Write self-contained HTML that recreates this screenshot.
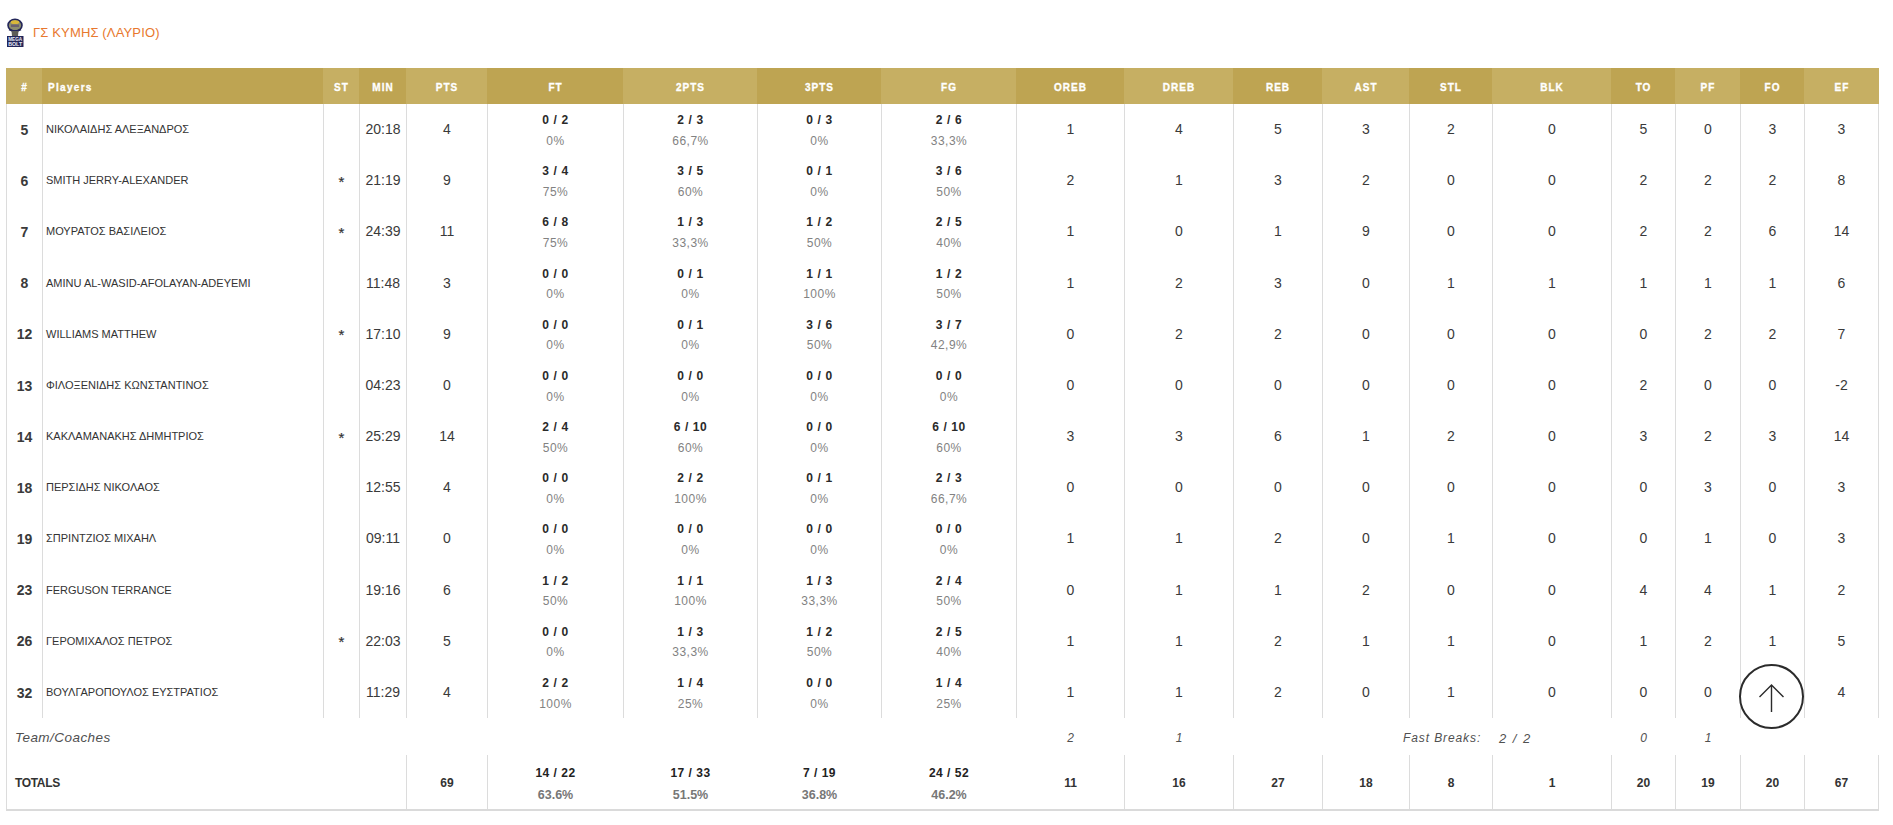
<!DOCTYPE html>
<html><head><meta charset="utf-8"><title>Box score</title>
<style>
*{margin:0;padding:0;box-sizing:border-box}
html,body{width:1893px;height:825px;overflow:hidden;background:#fff}
body{position:relative;font-family:"Liberation Sans",sans-serif;color:#333}
.a{position:absolute}
.hc{position:absolute;top:68px;height:36px;background:#bea452}
.hc span{position:absolute;left:0;right:0;top:0;color:#fff;font-weight:bold;font-size:10px;letter-spacing:1px;line-height:39.5px;text-align:center;white-space:nowrap;-webkit-text-stroke:0.3px #fff;text-indent:1px}
.vl{position:absolute;width:1px;background:#dcdcdc}
.t{position:absolute;white-space:nowrap;text-align:center;line-height:1}
.num{font-size:14px;color:#3a3a3a}
.jr{font-size:14px;font-weight:bold;color:#3a3a3a}
.nm{font-size:11px;color:#333;text-align:left}
.st{font-size:15px;color:#333;-webkit-text-stroke:0.2px #333}
.s1{font-size:12px;font-weight:bold;color:#2a2a2a;letter-spacing:0.6px}
.s2{font-size:12px;color:#828282;letter-spacing:0.5px}
.it{font-size:12px;font-style:italic;color:#505050}
.tb{font-size:12px;font-weight:bold;color:#333}
.tb2{font-size:12px;font-weight:bold;color:#222;letter-spacing:0.5px}
.tp{font-size:12.5px;font-weight:bold;color:#777}
</style></head><body>

<svg class="a" style="left:6px;top:18px" width="18" height="30" viewBox="0 0 18 30">
<ellipse cx="9" cy="7.2" rx="7" ry="5.9" fill="#8b8c6e" stroke="#23265a" stroke-width="1.6"/>
<ellipse cx="9" cy="4.2" rx="4.2" ry="1.9" fill="#d9b83a"/>
<path d="M5 6.5h8v2.5h-8z" fill="#6a6070"/>
<path d="M3 11.5 Q9 14.5 15 11.5" stroke="#23265a" stroke-width="1.4" fill="none"/>
<path d="M5.5 13 L12.5 13 L12 18 L6 18 Z" fill="#5d5d58"/>
<rect x="1" y="18" width="16.5" height="11" fill="#23265a"/>
<text x="9.2" y="22.9" font-family="Liberation Sans" font-weight="bold" font-size="5" fill="#e8eaf4" text-anchor="middle" textLength="14" lengthAdjust="spacingAndGlyphs">MEGA</text>
<text x="9.2" y="28" font-family="Liberation Sans" font-weight="bold" font-size="5" fill="#e8eaf4" text-anchor="middle" textLength="14" lengthAdjust="spacingAndGlyphs">BOLT</text>
</svg>
<div class="a" style="left:33px;top:25px;font-size:13px;color:#e8782e;line-height:15px;white-space:nowrap;letter-spacing:0.15px">ΓΣ ΚΥΜΗΣ (ΛΑΥΡΙΟ)</div>
<div class="hc" style="left:6px;width:36px;background:#c6af63"><span>#</span></div>
<div class="hc" style="left:42px;width:281px;background:#bea452"><span style="text-align:left;left:6px;letter-spacing:1.3px;text-indent:0">Players</span></div>
<div class="hc" style="left:323px;width:36px;background:#c6af63"><span>ST</span></div>
<div class="hc" style="left:359px;width:47px;background:#bea452"><span>MIN</span></div>
<div class="hc" style="left:406px;width:81px;background:#c6af63"><span>PTS</span></div>
<div class="hc" style="left:487px;width:136px;background:#bea452"><span>FT</span></div>
<div class="hc" style="left:623px;width:134px;background:#c6af63"><span>2PTS</span></div>
<div class="hc" style="left:757px;width:124px;background:#bea452"><span>3PTS</span></div>
<div class="hc" style="left:881px;width:135px;background:#c6af63"><span>FG</span></div>
<div class="hc" style="left:1016px;width:108px;background:#bea452"><span>OREB</span></div>
<div class="hc" style="left:1124px;width:109px;background:#c6af63"><span>DREB</span></div>
<div class="hc" style="left:1233px;width:89px;background:#bea452"><span>REB</span></div>
<div class="hc" style="left:1322px;width:87px;background:#c6af63"><span>AST</span></div>
<div class="hc" style="left:1409px;width:83px;background:#bea452"><span>STL</span></div>
<div class="hc" style="left:1492px;width:119px;background:#c6af63"><span>BLK</span></div>
<div class="hc" style="left:1611px;width:64px;background:#bea452"><span>TO</span></div>
<div class="hc" style="left:1675px;width:65px;background:#c6af63"><span>PF</span></div>
<div class="hc" style="left:1740px;width:64px;background:#bea452"><span>FO</span></div>
<div class="hc" style="left:1804px;width:75px;background:#c6af63"><span>EF</span></div>
<div class="vl" style="left:6px;top:104px;height:705px"></div>
<div class="vl" style="left:42px;top:104px;height:614px"></div>
<div class="vl" style="left:323px;top:104px;height:614px"></div>
<div class="vl" style="left:359px;top:104px;height:614px"></div>
<div class="vl" style="left:406px;top:104px;height:614px"></div>
<div class="vl" style="left:487px;top:104px;height:614px"></div>
<div class="vl" style="left:623px;top:104px;height:614px"></div>
<div class="vl" style="left:757px;top:104px;height:614px"></div>
<div class="vl" style="left:881px;top:104px;height:614px"></div>
<div class="vl" style="left:1016px;top:104px;height:614px"></div>
<div class="vl" style="left:1124px;top:104px;height:614px"></div>
<div class="vl" style="left:1233px;top:104px;height:614px"></div>
<div class="vl" style="left:1322px;top:104px;height:614px"></div>
<div class="vl" style="left:1409px;top:104px;height:614px"></div>
<div class="vl" style="left:1492px;top:104px;height:614px"></div>
<div class="vl" style="left:1611px;top:104px;height:614px"></div>
<div class="vl" style="left:1675px;top:104px;height:614px"></div>
<div class="vl" style="left:1740px;top:104px;height:614px"></div>
<div class="vl" style="left:1804px;top:104px;height:614px"></div>
<div class="vl" style="left:1878px;top:104px;height:614px"></div>
<div class="vl" style="left:406px;top:755px;height:54px"></div>
<div class="vl" style="left:487px;top:755px;height:54px"></div>
<div class="vl" style="left:1124px;top:755px;height:54px"></div>
<div class="vl" style="left:1233px;top:755px;height:54px"></div>
<div class="vl" style="left:1322px;top:755px;height:54px"></div>
<div class="vl" style="left:1409px;top:755px;height:54px"></div>
<div class="vl" style="left:1492px;top:755px;height:54px"></div>
<div class="vl" style="left:1611px;top:755px;height:54px"></div>
<div class="vl" style="left:1675px;top:755px;height:54px"></div>
<div class="vl" style="left:1740px;top:755px;height:54px"></div>
<div class="vl" style="left:1804px;top:755px;height:54px"></div>
<div class="vl" style="left:1878px;top:755px;height:54px"></div>
<div class="a" style="left:6px;top:809px;width:1873px;height:2px;background:#dadada"></div>
<div class="t jr" style="left:6.5px;top:122.7px;width:36px">5</div>
<div class="t nm" style="left:46px;top:124.0px">ΝΙΚΟΛΑΙΔΗΣ ΑΛΕΞΑΝΔΡΟΣ</div>
<div class="t num" style="left:343.0px;top:122.0px;width:80px">20:18</div>
<div class="t num" style="left:407.0px;top:122.0px;width:80px">4</div>
<div class="t s1" style="left:495.5px;top:114.0px;width:120px">0 / 2</div>
<div class="t s2" style="left:495.5px;top:134.7px;width:120px">0%</div>
<div class="t s1" style="left:630.5px;top:114.0px;width:120px">2 / 3</div>
<div class="t s2" style="left:630.5px;top:134.7px;width:120px">66,7%</div>
<div class="t s1" style="left:759.5px;top:114.0px;width:120px">0 / 3</div>
<div class="t s2" style="left:759.5px;top:134.7px;width:120px">0%</div>
<div class="t s1" style="left:889.0px;top:114.0px;width:120px">2 / 6</div>
<div class="t s2" style="left:889.0px;top:134.7px;width:120px">33,3%</div>
<div class="t num" style="left:1030.5px;top:122.0px;width:80px">1</div>
<div class="t num" style="left:1139.0px;top:122.0px;width:80px">4</div>
<div class="t num" style="left:1238.0px;top:122.0px;width:80px">5</div>
<div class="t num" style="left:1326.0px;top:122.0px;width:80px">3</div>
<div class="t num" style="left:1411.0px;top:122.0px;width:80px">2</div>
<div class="t num" style="left:1512.0px;top:122.0px;width:80px">0</div>
<div class="t num" style="left:1603.5px;top:122.0px;width:80px">5</div>
<div class="t num" style="left:1668.0px;top:122.0px;width:80px">0</div>
<div class="t num" style="left:1732.5px;top:122.0px;width:80px">3</div>
<div class="t num" style="left:1801.5px;top:122.0px;width:80px">3</div>
<div class="t jr" style="left:6.5px;top:173.9px;width:36px">6</div>
<div class="t nm" style="left:46px;top:175.2px">SMITH JERRY-ALEXANDER</div>
<div class="t st" style="left:323.5px;top:173.7px;width:36px">*</div>
<div class="t num" style="left:343.0px;top:173.2px;width:80px">21:19</div>
<div class="t num" style="left:407.0px;top:173.2px;width:80px">9</div>
<div class="t s1" style="left:495.5px;top:165.2px;width:120px">3 / 4</div>
<div class="t s2" style="left:495.5px;top:185.9px;width:120px">75%</div>
<div class="t s1" style="left:630.5px;top:165.2px;width:120px">3 / 5</div>
<div class="t s2" style="left:630.5px;top:185.9px;width:120px">60%</div>
<div class="t s1" style="left:759.5px;top:165.2px;width:120px">0 / 1</div>
<div class="t s2" style="left:759.5px;top:185.9px;width:120px">0%</div>
<div class="t s1" style="left:889.0px;top:165.2px;width:120px">3 / 6</div>
<div class="t s2" style="left:889.0px;top:185.9px;width:120px">50%</div>
<div class="t num" style="left:1030.5px;top:173.2px;width:80px">2</div>
<div class="t num" style="left:1139.0px;top:173.2px;width:80px">1</div>
<div class="t num" style="left:1238.0px;top:173.2px;width:80px">3</div>
<div class="t num" style="left:1326.0px;top:173.2px;width:80px">2</div>
<div class="t num" style="left:1411.0px;top:173.2px;width:80px">0</div>
<div class="t num" style="left:1512.0px;top:173.2px;width:80px">0</div>
<div class="t num" style="left:1603.5px;top:173.2px;width:80px">2</div>
<div class="t num" style="left:1668.0px;top:173.2px;width:80px">2</div>
<div class="t num" style="left:1732.5px;top:173.2px;width:80px">2</div>
<div class="t num" style="left:1801.5px;top:173.2px;width:80px">8</div>
<div class="t jr" style="left:6.5px;top:225.0px;width:36px">7</div>
<div class="t nm" style="left:46px;top:226.3px">ΜΟΥΡΑΤΟΣ ΒΑΣΙΛΕΙΟΣ</div>
<div class="t st" style="left:323.5px;top:224.8px;width:36px">*</div>
<div class="t num" style="left:343.0px;top:224.3px;width:80px">24:39</div>
<div class="t num" style="left:407.0px;top:224.3px;width:80px">11</div>
<div class="t s1" style="left:495.5px;top:216.3px;width:120px">6 / 8</div>
<div class="t s2" style="left:495.5px;top:237.0px;width:120px">75%</div>
<div class="t s1" style="left:630.5px;top:216.3px;width:120px">1 / 3</div>
<div class="t s2" style="left:630.5px;top:237.0px;width:120px">33,3%</div>
<div class="t s1" style="left:759.5px;top:216.3px;width:120px">1 / 2</div>
<div class="t s2" style="left:759.5px;top:237.0px;width:120px">50%</div>
<div class="t s1" style="left:889.0px;top:216.3px;width:120px">2 / 5</div>
<div class="t s2" style="left:889.0px;top:237.0px;width:120px">40%</div>
<div class="t num" style="left:1030.5px;top:224.3px;width:80px">1</div>
<div class="t num" style="left:1139.0px;top:224.3px;width:80px">0</div>
<div class="t num" style="left:1238.0px;top:224.3px;width:80px">1</div>
<div class="t num" style="left:1326.0px;top:224.3px;width:80px">9</div>
<div class="t num" style="left:1411.0px;top:224.3px;width:80px">0</div>
<div class="t num" style="left:1512.0px;top:224.3px;width:80px">0</div>
<div class="t num" style="left:1603.5px;top:224.3px;width:80px">2</div>
<div class="t num" style="left:1668.0px;top:224.3px;width:80px">2</div>
<div class="t num" style="left:1732.5px;top:224.3px;width:80px">6</div>
<div class="t num" style="left:1801.5px;top:224.3px;width:80px">14</div>
<div class="t jr" style="left:6.5px;top:276.2px;width:36px">8</div>
<div class="t nm" style="left:46px;top:277.5px">AMINU AL-WASID-AFOLAYAN-ADEYEMI</div>
<div class="t num" style="left:343.0px;top:275.5px;width:80px">11:48</div>
<div class="t num" style="left:407.0px;top:275.5px;width:80px">3</div>
<div class="t s1" style="left:495.5px;top:267.5px;width:120px">0 / 0</div>
<div class="t s2" style="left:495.5px;top:288.2px;width:120px">0%</div>
<div class="t s1" style="left:630.5px;top:267.5px;width:120px">0 / 1</div>
<div class="t s2" style="left:630.5px;top:288.2px;width:120px">0%</div>
<div class="t s1" style="left:759.5px;top:267.5px;width:120px">1 / 1</div>
<div class="t s2" style="left:759.5px;top:288.2px;width:120px">100%</div>
<div class="t s1" style="left:889.0px;top:267.5px;width:120px">1 / 2</div>
<div class="t s2" style="left:889.0px;top:288.2px;width:120px">50%</div>
<div class="t num" style="left:1030.5px;top:275.5px;width:80px">1</div>
<div class="t num" style="left:1139.0px;top:275.5px;width:80px">2</div>
<div class="t num" style="left:1238.0px;top:275.5px;width:80px">3</div>
<div class="t num" style="left:1326.0px;top:275.5px;width:80px">0</div>
<div class="t num" style="left:1411.0px;top:275.5px;width:80px">1</div>
<div class="t num" style="left:1512.0px;top:275.5px;width:80px">1</div>
<div class="t num" style="left:1603.5px;top:275.5px;width:80px">1</div>
<div class="t num" style="left:1668.0px;top:275.5px;width:80px">1</div>
<div class="t num" style="left:1732.5px;top:275.5px;width:80px">1</div>
<div class="t num" style="left:1801.5px;top:275.5px;width:80px">6</div>
<div class="t jr" style="left:6.5px;top:327.4px;width:36px">12</div>
<div class="t nm" style="left:46px;top:328.7px">WILLIAMS MATTHEW</div>
<div class="t st" style="left:323.5px;top:327.2px;width:36px">*</div>
<div class="t num" style="left:343.0px;top:326.7px;width:80px">17:10</div>
<div class="t num" style="left:407.0px;top:326.7px;width:80px">9</div>
<div class="t s1" style="left:495.5px;top:318.7px;width:120px">0 / 0</div>
<div class="t s2" style="left:495.5px;top:339.4px;width:120px">0%</div>
<div class="t s1" style="left:630.5px;top:318.7px;width:120px">0 / 1</div>
<div class="t s2" style="left:630.5px;top:339.4px;width:120px">0%</div>
<div class="t s1" style="left:759.5px;top:318.7px;width:120px">3 / 6</div>
<div class="t s2" style="left:759.5px;top:339.4px;width:120px">50%</div>
<div class="t s1" style="left:889.0px;top:318.7px;width:120px">3 / 7</div>
<div class="t s2" style="left:889.0px;top:339.4px;width:120px">42,9%</div>
<div class="t num" style="left:1030.5px;top:326.7px;width:80px">0</div>
<div class="t num" style="left:1139.0px;top:326.7px;width:80px">2</div>
<div class="t num" style="left:1238.0px;top:326.7px;width:80px">2</div>
<div class="t num" style="left:1326.0px;top:326.7px;width:80px">0</div>
<div class="t num" style="left:1411.0px;top:326.7px;width:80px">0</div>
<div class="t num" style="left:1512.0px;top:326.7px;width:80px">0</div>
<div class="t num" style="left:1603.5px;top:326.7px;width:80px">0</div>
<div class="t num" style="left:1668.0px;top:326.7px;width:80px">2</div>
<div class="t num" style="left:1732.5px;top:326.7px;width:80px">2</div>
<div class="t num" style="left:1801.5px;top:326.7px;width:80px">7</div>
<div class="t jr" style="left:6.5px;top:378.6px;width:36px">13</div>
<div class="t nm" style="left:46px;top:379.9px">ΦΙΛΟΞΕΝΙΔΗΣ ΚΩΝΣΤΑΝΤΙΝΟΣ</div>
<div class="t num" style="left:343.0px;top:377.9px;width:80px">04:23</div>
<div class="t num" style="left:407.0px;top:377.9px;width:80px">0</div>
<div class="t s1" style="left:495.5px;top:369.9px;width:120px">0 / 0</div>
<div class="t s2" style="left:495.5px;top:390.6px;width:120px">0%</div>
<div class="t s1" style="left:630.5px;top:369.9px;width:120px">0 / 0</div>
<div class="t s2" style="left:630.5px;top:390.6px;width:120px">0%</div>
<div class="t s1" style="left:759.5px;top:369.9px;width:120px">0 / 0</div>
<div class="t s2" style="left:759.5px;top:390.6px;width:120px">0%</div>
<div class="t s1" style="left:889.0px;top:369.9px;width:120px">0 / 0</div>
<div class="t s2" style="left:889.0px;top:390.6px;width:120px">0%</div>
<div class="t num" style="left:1030.5px;top:377.9px;width:80px">0</div>
<div class="t num" style="left:1139.0px;top:377.9px;width:80px">0</div>
<div class="t num" style="left:1238.0px;top:377.9px;width:80px">0</div>
<div class="t num" style="left:1326.0px;top:377.9px;width:80px">0</div>
<div class="t num" style="left:1411.0px;top:377.9px;width:80px">0</div>
<div class="t num" style="left:1512.0px;top:377.9px;width:80px">0</div>
<div class="t num" style="left:1603.5px;top:377.9px;width:80px">2</div>
<div class="t num" style="left:1668.0px;top:377.9px;width:80px">0</div>
<div class="t num" style="left:1732.5px;top:377.9px;width:80px">0</div>
<div class="t num" style="left:1801.5px;top:377.9px;width:80px">-2</div>
<div class="t jr" style="left:6.5px;top:429.7px;width:36px">14</div>
<div class="t nm" style="left:46px;top:431.0px">ΚΑΚΛΑΜΑΝΑΚΗΣ ΔΗΜΗΤΡΙΟΣ</div>
<div class="t st" style="left:323.5px;top:429.5px;width:36px">*</div>
<div class="t num" style="left:343.0px;top:429.0px;width:80px">25:29</div>
<div class="t num" style="left:407.0px;top:429.0px;width:80px">14</div>
<div class="t s1" style="left:495.5px;top:421.0px;width:120px">2 / 4</div>
<div class="t s2" style="left:495.5px;top:441.7px;width:120px">50%</div>
<div class="t s1" style="left:630.5px;top:421.0px;width:120px">6 / 10</div>
<div class="t s2" style="left:630.5px;top:441.7px;width:120px">60%</div>
<div class="t s1" style="left:759.5px;top:421.0px;width:120px">0 / 0</div>
<div class="t s2" style="left:759.5px;top:441.7px;width:120px">0%</div>
<div class="t s1" style="left:889.0px;top:421.0px;width:120px">6 / 10</div>
<div class="t s2" style="left:889.0px;top:441.7px;width:120px">60%</div>
<div class="t num" style="left:1030.5px;top:429.0px;width:80px">3</div>
<div class="t num" style="left:1139.0px;top:429.0px;width:80px">3</div>
<div class="t num" style="left:1238.0px;top:429.0px;width:80px">6</div>
<div class="t num" style="left:1326.0px;top:429.0px;width:80px">1</div>
<div class="t num" style="left:1411.0px;top:429.0px;width:80px">2</div>
<div class="t num" style="left:1512.0px;top:429.0px;width:80px">0</div>
<div class="t num" style="left:1603.5px;top:429.0px;width:80px">3</div>
<div class="t num" style="left:1668.0px;top:429.0px;width:80px">2</div>
<div class="t num" style="left:1732.5px;top:429.0px;width:80px">3</div>
<div class="t num" style="left:1801.5px;top:429.0px;width:80px">14</div>
<div class="t jr" style="left:6.5px;top:480.9px;width:36px">18</div>
<div class="t nm" style="left:46px;top:482.2px">ΠΕΡΣΙΔΗΣ ΝΙΚΟΛΑΟΣ</div>
<div class="t num" style="left:343.0px;top:480.2px;width:80px">12:55</div>
<div class="t num" style="left:407.0px;top:480.2px;width:80px">4</div>
<div class="t s1" style="left:495.5px;top:472.2px;width:120px">0 / 0</div>
<div class="t s2" style="left:495.5px;top:492.9px;width:120px">0%</div>
<div class="t s1" style="left:630.5px;top:472.2px;width:120px">2 / 2</div>
<div class="t s2" style="left:630.5px;top:492.9px;width:120px">100%</div>
<div class="t s1" style="left:759.5px;top:472.2px;width:120px">0 / 1</div>
<div class="t s2" style="left:759.5px;top:492.9px;width:120px">0%</div>
<div class="t s1" style="left:889.0px;top:472.2px;width:120px">2 / 3</div>
<div class="t s2" style="left:889.0px;top:492.9px;width:120px">66,7%</div>
<div class="t num" style="left:1030.5px;top:480.2px;width:80px">0</div>
<div class="t num" style="left:1139.0px;top:480.2px;width:80px">0</div>
<div class="t num" style="left:1238.0px;top:480.2px;width:80px">0</div>
<div class="t num" style="left:1326.0px;top:480.2px;width:80px">0</div>
<div class="t num" style="left:1411.0px;top:480.2px;width:80px">0</div>
<div class="t num" style="left:1512.0px;top:480.2px;width:80px">0</div>
<div class="t num" style="left:1603.5px;top:480.2px;width:80px">0</div>
<div class="t num" style="left:1668.0px;top:480.2px;width:80px">3</div>
<div class="t num" style="left:1732.5px;top:480.2px;width:80px">0</div>
<div class="t num" style="left:1801.5px;top:480.2px;width:80px">3</div>
<div class="t jr" style="left:6.5px;top:532.1px;width:36px">19</div>
<div class="t nm" style="left:46px;top:533.4px">ΣΠΡΙΝΤΖΙΟΣ ΜΙΧΑΗΛ</div>
<div class="t num" style="left:343.0px;top:531.4px;width:80px">09:11</div>
<div class="t num" style="left:407.0px;top:531.4px;width:80px">0</div>
<div class="t s1" style="left:495.5px;top:523.4px;width:120px">0 / 0</div>
<div class="t s2" style="left:495.5px;top:544.1px;width:120px">0%</div>
<div class="t s1" style="left:630.5px;top:523.4px;width:120px">0 / 0</div>
<div class="t s2" style="left:630.5px;top:544.1px;width:120px">0%</div>
<div class="t s1" style="left:759.5px;top:523.4px;width:120px">0 / 0</div>
<div class="t s2" style="left:759.5px;top:544.1px;width:120px">0%</div>
<div class="t s1" style="left:889.0px;top:523.4px;width:120px">0 / 0</div>
<div class="t s2" style="left:889.0px;top:544.1px;width:120px">0%</div>
<div class="t num" style="left:1030.5px;top:531.4px;width:80px">1</div>
<div class="t num" style="left:1139.0px;top:531.4px;width:80px">1</div>
<div class="t num" style="left:1238.0px;top:531.4px;width:80px">2</div>
<div class="t num" style="left:1326.0px;top:531.4px;width:80px">0</div>
<div class="t num" style="left:1411.0px;top:531.4px;width:80px">1</div>
<div class="t num" style="left:1512.0px;top:531.4px;width:80px">0</div>
<div class="t num" style="left:1603.5px;top:531.4px;width:80px">0</div>
<div class="t num" style="left:1668.0px;top:531.4px;width:80px">1</div>
<div class="t num" style="left:1732.5px;top:531.4px;width:80px">0</div>
<div class="t num" style="left:1801.5px;top:531.4px;width:80px">3</div>
<div class="t jr" style="left:6.5px;top:583.2px;width:36px">23</div>
<div class="t nm" style="left:46px;top:584.5px">FERGUSON TERRANCE</div>
<div class="t num" style="left:343.0px;top:582.5px;width:80px">19:16</div>
<div class="t num" style="left:407.0px;top:582.5px;width:80px">6</div>
<div class="t s1" style="left:495.5px;top:574.5px;width:120px">1 / 2</div>
<div class="t s2" style="left:495.5px;top:595.2px;width:120px">50%</div>
<div class="t s1" style="left:630.5px;top:574.5px;width:120px">1 / 1</div>
<div class="t s2" style="left:630.5px;top:595.2px;width:120px">100%</div>
<div class="t s1" style="left:759.5px;top:574.5px;width:120px">1 / 3</div>
<div class="t s2" style="left:759.5px;top:595.2px;width:120px">33,3%</div>
<div class="t s1" style="left:889.0px;top:574.5px;width:120px">2 / 4</div>
<div class="t s2" style="left:889.0px;top:595.2px;width:120px">50%</div>
<div class="t num" style="left:1030.5px;top:582.5px;width:80px">0</div>
<div class="t num" style="left:1139.0px;top:582.5px;width:80px">1</div>
<div class="t num" style="left:1238.0px;top:582.5px;width:80px">1</div>
<div class="t num" style="left:1326.0px;top:582.5px;width:80px">2</div>
<div class="t num" style="left:1411.0px;top:582.5px;width:80px">0</div>
<div class="t num" style="left:1512.0px;top:582.5px;width:80px">0</div>
<div class="t num" style="left:1603.5px;top:582.5px;width:80px">4</div>
<div class="t num" style="left:1668.0px;top:582.5px;width:80px">4</div>
<div class="t num" style="left:1732.5px;top:582.5px;width:80px">1</div>
<div class="t num" style="left:1801.5px;top:582.5px;width:80px">2</div>
<div class="t jr" style="left:6.5px;top:634.4px;width:36px">26</div>
<div class="t nm" style="left:46px;top:635.7px">ΓΕΡΟΜΙΧΑΛΟΣ ΠΕΤΡΟΣ</div>
<div class="t st" style="left:323.5px;top:634.2px;width:36px">*</div>
<div class="t num" style="left:343.0px;top:633.7px;width:80px">22:03</div>
<div class="t num" style="left:407.0px;top:633.7px;width:80px">5</div>
<div class="t s1" style="left:495.5px;top:625.7px;width:120px">0 / 0</div>
<div class="t s2" style="left:495.5px;top:646.4px;width:120px">0%</div>
<div class="t s1" style="left:630.5px;top:625.7px;width:120px">1 / 3</div>
<div class="t s2" style="left:630.5px;top:646.4px;width:120px">33,3%</div>
<div class="t s1" style="left:759.5px;top:625.7px;width:120px">1 / 2</div>
<div class="t s2" style="left:759.5px;top:646.4px;width:120px">50%</div>
<div class="t s1" style="left:889.0px;top:625.7px;width:120px">2 / 5</div>
<div class="t s2" style="left:889.0px;top:646.4px;width:120px">40%</div>
<div class="t num" style="left:1030.5px;top:633.7px;width:80px">1</div>
<div class="t num" style="left:1139.0px;top:633.7px;width:80px">1</div>
<div class="t num" style="left:1238.0px;top:633.7px;width:80px">2</div>
<div class="t num" style="left:1326.0px;top:633.7px;width:80px">1</div>
<div class="t num" style="left:1411.0px;top:633.7px;width:80px">1</div>
<div class="t num" style="left:1512.0px;top:633.7px;width:80px">0</div>
<div class="t num" style="left:1603.5px;top:633.7px;width:80px">1</div>
<div class="t num" style="left:1668.0px;top:633.7px;width:80px">2</div>
<div class="t num" style="left:1732.5px;top:633.7px;width:80px">1</div>
<div class="t num" style="left:1801.5px;top:633.7px;width:80px">5</div>
<div class="t jr" style="left:6.5px;top:685.6px;width:36px">32</div>
<div class="t nm" style="left:46px;top:686.9px">ΒΟΥΛΓΑΡΟΠΟΥΛΟΣ ΕΥΣΤΡΑΤΙΟΣ</div>
<div class="t num" style="left:343.0px;top:684.9px;width:80px">11:29</div>
<div class="t num" style="left:407.0px;top:684.9px;width:80px">4</div>
<div class="t s1" style="left:495.5px;top:676.9px;width:120px">2 / 2</div>
<div class="t s2" style="left:495.5px;top:697.6px;width:120px">100%</div>
<div class="t s1" style="left:630.5px;top:676.9px;width:120px">1 / 4</div>
<div class="t s2" style="left:630.5px;top:697.6px;width:120px">25%</div>
<div class="t s1" style="left:759.5px;top:676.9px;width:120px">0 / 0</div>
<div class="t s2" style="left:759.5px;top:697.6px;width:120px">0%</div>
<div class="t s1" style="left:889.0px;top:676.9px;width:120px">1 / 4</div>
<div class="t s2" style="left:889.0px;top:697.6px;width:120px">25%</div>
<div class="t num" style="left:1030.5px;top:684.9px;width:80px">1</div>
<div class="t num" style="left:1139.0px;top:684.9px;width:80px">1</div>
<div class="t num" style="left:1238.0px;top:684.9px;width:80px">2</div>
<div class="t num" style="left:1326.0px;top:684.9px;width:80px">0</div>
<div class="t num" style="left:1411.0px;top:684.9px;width:80px">1</div>
<div class="t num" style="left:1512.0px;top:684.9px;width:80px">0</div>
<div class="t num" style="left:1603.5px;top:684.9px;width:80px">0</div>
<div class="t num" style="left:1668.0px;top:684.9px;width:80px">0</div>
<div class="t num" style="left:1801.5px;top:684.9px;width:80px">4</div>
<div class="t it" style="left:15px;top:731px;font-size:13.5px;letter-spacing:0.45px">Team/Coaches</div>
<div class="t it" style="left:1050.5px;top:732.0px;width:40px">2</div>
<div class="t it" style="left:1159.0px;top:732.0px;width:40px">1</div>
<div class="t it" style="left:1623.5px;top:732.0px;width:40px">0</div>
<div class="t it" style="left:1688.0px;top:732.0px;width:40px">1</div>
<div class="t it" style="left:1403px;top:732px;letter-spacing:0.9px;text-align:left">Fast Breaks:</div>
<div class="t it" style="left:1499px;top:731.5px;font-size:13px;letter-spacing:1.5px;text-align:left">2 / 2</div>
<div class="t tb" style="left:15px;top:777px;text-align:left;letter-spacing:-0.35px">TOTALS</div>
<div class="t tb" style="left:407.0px;top:777.0px;width:80px">69</div>
<div class="t tb2" style="left:495.5px;top:766.5px;width:120px">14 / 22</div>
<div class="t tp" style="left:495.5px;top:789.0px;width:120px">63.6%</div>
<div class="t tb2" style="left:630.5px;top:766.5px;width:120px">17 / 33</div>
<div class="t tp" style="left:630.5px;top:789.0px;width:120px">51.5%</div>
<div class="t tb2" style="left:759.5px;top:766.5px;width:120px">7 / 19</div>
<div class="t tp" style="left:759.5px;top:789.0px;width:120px">36.8%</div>
<div class="t tb2" style="left:889.0px;top:766.5px;width:120px">24 / 52</div>
<div class="t tp" style="left:889.0px;top:789.0px;width:120px">46.2%</div>
<div class="t tb" style="left:1030.5px;top:777.0px;width:80px">11</div>
<div class="t tb" style="left:1139.0px;top:777.0px;width:80px">16</div>
<div class="t tb" style="left:1238.0px;top:777.0px;width:80px">27</div>
<div class="t tb" style="left:1326.0px;top:777.0px;width:80px">18</div>
<div class="t tb" style="left:1411.0px;top:777.0px;width:80px">8</div>
<div class="t tb" style="left:1512.0px;top:777.0px;width:80px">1</div>
<div class="t tb" style="left:1603.5px;top:777.0px;width:80px">20</div>
<div class="t tb" style="left:1668.0px;top:777.0px;width:80px">19</div>
<div class="t tb" style="left:1732.5px;top:777.0px;width:80px">20</div>
<div class="t tb" style="left:1801.5px;top:777.0px;width:80px">67</div>
<svg class="a" style="left:1738px;top:663px" width="67" height="67" viewBox="0 0 67 67">
<circle cx="33.5" cy="33.5" r="31.5" fill="#fff" stroke="#2b2b2b" stroke-width="2"/>
<path d="M33.5 22 V49 M21.5 34 L33.5 22 L45.5 34" fill="none" stroke="#2b2b2b" stroke-width="1.4"/>
</svg>
</body></html>
